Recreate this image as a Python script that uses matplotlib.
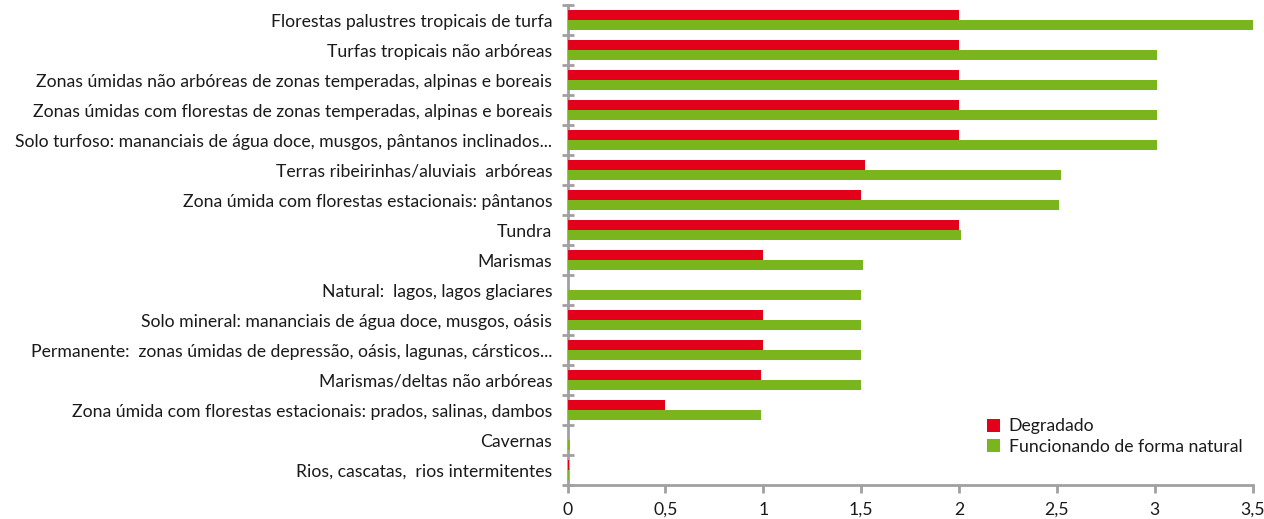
import numpy as np
import matplotlib.pyplot as plt
from matplotlib.ticker import FixedLocator, FuncFormatter

categories = [
    'Florestas palustres tropicais de turfa',
    'Turfas tropicais não arbóreas',
    'Zonas úmidas não arbóreas de zonas temperadas, alpinas e boreais',
    'Zonas úmidas com florestas de zonas temperadas, alpinas e boreais',
    'Solo turfoso: mananciais de água doce, musgos, pântanos inclinados...',
    'Terras ribeirinhas/aluviais  arbóreas',
    'Zona úmida com florestas estacionais: pântanos',
    'Tundra',
    'Marismas',
    'Natural:  lagos, lagos glaciares',
    'Solo mineral: mananciais de água doce, musgos, oásis',
    'Permanente:  zonas úmidas de depressão, oásis, lagunas, cársticos...',
    'Marismas/deltas não arbóreas',
    'Zona úmida com florestas estacionais: prados, salinas, dambos',
    'Cavernas',
    'Rios, cascatas,  rios intermitentes',
]
degradado = [2.0, 2.0, 2.0, 2.0, 2.0, 1.52, 1.5, 2.0, 1.0, 0.0, 1.0, 1.0, 0.99, 0.5, 0.0, 0.01]
natural = [3.5, 3.01, 3.01, 3.01, 3.01, 2.52, 2.51, 2.01, 1.51, 1.5, 1.5, 1.5, 1.5, 0.99, 0.015, 0.01]
xticks = [0, 0.5, 1, 1.5, 2, 2.5, 3, 3.5]

red = '#E2001A'
green = '#7AB51D'
grey = '#A0A0A0'

plt.rcParams['font.family'] = ['Lato', 'DejaVu Sans']

fig = plt.figure(figsize=(12.64, 5.19), dpi=100)
ax = fig.add_axes([0.449, 0.0655, 0.542, 0.9245])

n = len(categories)
y = np.arange(n)[::-1]
h = 0.333
ax.barh(y + h / 2, degradado, height=h, color=red, label='Degradado', zorder=3)
ax.barh(y - h / 2, natural, height=h, color=green, label='Funcionando de forma natural', zorder=3)

ax.set_xlim(0, 3.5)
ax.set_ylim(-0.5, n - 0.5)
ax.set_yticks(y)
ax.set_yticklabels(categories)
ax.yaxis.set_minor_locator(FixedLocator(np.arange(-0.5, n, 1)))
ax.tick_params(axis='y', which='major', length=0, pad=11, labelsize=12.7, labelcolor='#1a1a1a')
ax.tick_params(axis='y', which='minor', length=8, width=2, color=grey, direction='inout')
ax.set_xticks(xticks)
ax.xaxis.set_major_formatter(FuncFormatter(lambda v, p: ('%g' % v).replace('.', ',')))
ax.tick_params(axis='x', length=6, width=2, color=grey, direction='out', labelsize=12.7,
               labelcolor='#1a1a1a', pad=6)

for s in ['top', 'right']:
    ax.spines[s].set_visible(False)
for s in ['left', 'bottom']:
    ax.spines[s].set_color(grey)
    ax.spines[s].set_linewidth(2)

ax.legend(loc='lower right', bbox_to_anchor=(1.008, 0.03), frameon=False, fontsize=12.7,
          handlelength=0.75, handleheight=0.75, handletextpad=0.5, labelspacing=0.25,
          labelcolor='#1a1a1a')

fig.savefig('out.png', dpi=100)
